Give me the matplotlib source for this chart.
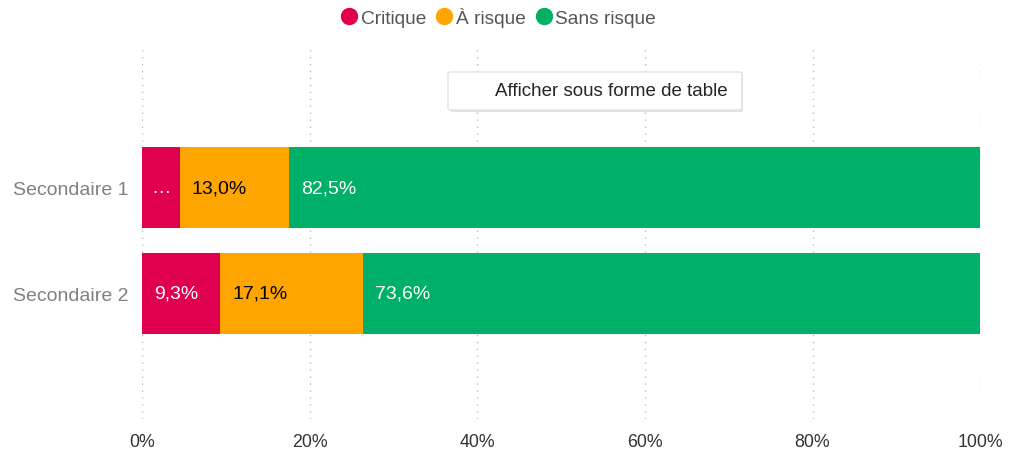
import numpy as np
import matplotlib.pyplot as plt
from matplotlib.patches import FancyBboxPatch

plt.rcParams['font.family'] = ['Liberation Sans', 'DejaVu Sans']

categories = ['Secondaire 1', 'Secondaire 2']
series = ['Critique', 'À risque', 'Sans risque']
critique = [4.5, 9.3]
a_risque = [13.0, 17.1]
sans_risque = [82.5, 73.6]
colors = ['#E1004F', '#FFA500', '#00AF68']
text_colors = ['white', 'black', 'white']
xticks = [0, 20, 40, 60, 80, 100]

fig = plt.figure(figsize=(10.21, 4.64), dpi=100)
ax = fig.add_axes([0.139, 0.095, 0.821, 0.797])

y = np.arange(len(categories))
left = np.zeros(len(categories))
for vals, name, col, tcol in zip([critique, a_risque, sans_risque], series, colors, text_colors):
    ax.barh(y, vals, left=left, height=0.77, color=col, label=name, zorder=2)
    for i, v in enumerate(vals):
        txt = f'{v:.1f}%'.replace('.', ',')
        if v < 6:
            ax.text(left[i] + v / 2, y[i], '…', color=tcol, fontsize=14,
                    ha='center', va='center', zorder=3)
        else:
            ax.text(left[i] + 1.45, y[i], txt, color=tcol, fontsize=14,
                    ha='left', va='center', zorder=3)
    left += np.array(vals)

ax.set_xlim(0, 100)
ax.set_ylim(2.19, -1.31)
ax.set_yticks(y)
ax.set_yticklabels(categories, color='#808080', fontsize=14)
ax.set_xticks(xticks)
ax.set_xticklabels([f'{t}%' for t in xticks], color='#333333', fontsize=12.8)
ax.tick_params(length=0, pad=10)
ax.tick_params(axis='y', pad=10)
for s in ax.spines.values():
    s.set_visible(False)
ax.grid(axis='x', linestyle=(0, (1, 4)), color='#BBBBBB', linewidth=1, zorder=0)

leg = fig.legend(handles=[plt.Line2D([], [], marker='o', linestyle='', markersize=11.5,
                                     color=c, label=n) for c, n in zip(colors, series)],
                 loc='upper center', bbox_to_anchor=(0.483, 1.02), ncol=3, frameon=False,
                 fontsize=13.8, handletextpad=-0.4, columnspacing=-0.05, labelcolor='#555555')

# tooltip style box
shadow = FancyBboxPatch((450 / 1021, 1 - 113 / 464), 293 / 1021, 38 / 464,
                        boxstyle='round,pad=0,rounding_size=0.003', transform=fig.transFigure,
                        facecolor='#DDDDDD', edgecolor='none', zorder=5, alpha=0.8)
box = FancyBboxPatch((448 / 1021, 1 - 111 / 464), 294 / 1021, 38 / 464,
                     boxstyle='round,pad=0,rounding_size=0.003', transform=fig.transFigure,
                     facecolor='white', edgecolor='#E2E2E2', linewidth=1, zorder=6)
fig.patches.extend([shadow, box])
fig.text(611 / 1021, 1 - 92 / 464, 'Afficher sous forme de table', ha='center', va='center',
         fontsize=13.5, color='#252525', zorder=7)

fig.savefig('out.png', dpi=100, facecolor='white')
